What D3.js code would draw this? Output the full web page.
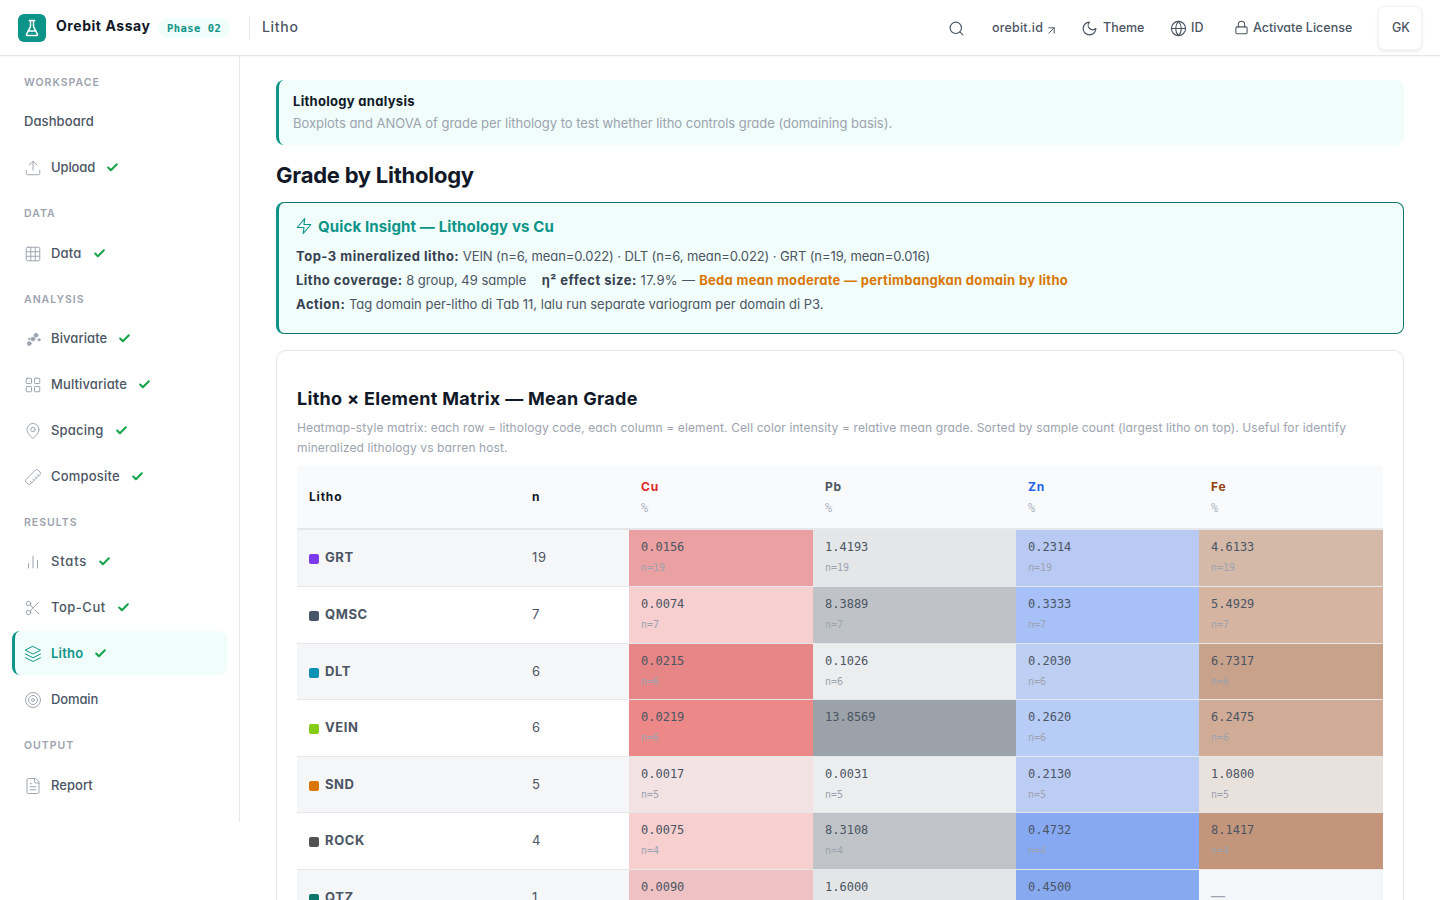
<!DOCTYPE html>
<html>
<head>
<meta charset="utf-8">
<title>Litho</title>
<script src="https://cdn.jsdelivr.net/npm/d3@7"></script>
<style>
  html, body { margin: 0; padding: 0; background: #fff; width: 1440px; height: 900px; overflow: hidden; }
  body { font-family: Inter, sans-serif; font-feature-settings: "cv11"; color: #4b5563; position: relative; }
  .t { position: absolute; white-space: nowrap; height: 20px; line-height: 20px; }
  .box { position: absolute; box-sizing: border-box; }
  .icon { position: absolute; fill: none; stroke-linecap: round; stroke-linejoin: round; stroke-width: 2; }
  svg.matrix { position: absolute; left: 0; top: 0; }
  .sec { font-size: 10.5px; font-weight: 600; letter-spacing: 1px; color: #9ca3af; }
  .nav { font-size: 13px; font-weight: 500; color: #4b5563; display: flex; align-items: center; }
  .nav svg { margin-left: 11px; }
  .top { font-size: 12.5px; font-weight: 500; color: #4b5563; }
  .ins { font-size: 13px; color: #4b5563; }
  .ins b { font-weight: 700; color: #374151; letter-spacing: .5px; }
  .ins b.warn { color: #d97706; letter-spacing: .3px; }
</style>
</head>
<body>
<script>
// matrix data
var lithoCodes = ["GRT", "QMSC", "DLT", "VEIN", "SND", "ROCK", "QTZ"];
var lithoCounts = [19, 7, 6, 6, 5, 4, 1];
var lithoColors = ["#7c3aed", "#475569", "#0891b2", "#84cc16", "#d97706", "#525252", "#0f766e"];
var elements = ["Cu", "Pb", "Zn", "Fe"];
var elementColors = ["#dc2626", "#4b5563", "#2563eb", "#92400e"];
var cuValues = [0.0156, 0.0074, 0.0215, 0.0219, 0.0017, 0.0075, 0.0090];
var pbValues = [1.4193, 8.3889, 0.1026, 13.8569, 0.0031, 8.3108, 1.6000];
var znValues = [0.2314, 0.3333, 0.2030, 0.2620, 0.2130, 0.4732, 0.4500];
var feValues = [4.6133, 5.4929, 6.7317, 6.2475, 1.0800, 8.1417, null];
var elementValues = [cuValues, pbValues, znValues, feValues];

// sidebar
var navSections = [
  { label: "WORKSPACE", y: 82 },
  { label: "DATA", y: 213 },
  { label: "ANALYSIS", y: 299 },
  { label: "RESULTS", y: 522 },
  { label: "OUTPUT", y: 745 }
];
var navItems = [
  { name: "Dashboard", y: 121, ls: .09 },
  { name: "Upload", y: 167, icon: "upload", ok: 1, ls: -.13 },
  { name: "Data", y: 253, icon: "table", ok: 1, ls: .2 },
  { name: "Bivariate", y: 338, icon: "scatter", ok: 1, ls: .09 },
  { name: "Multivariate", y: 384, icon: "grid", ok: 1, ls: .12 },
  { name: "Spacing", y: 430, icon: "pin", ok: 1, ls: .2 },
  { name: "Composite", y: 476, icon: "ruler", ok: 1, ls: .2 },
  { name: "Stats", y: 561, icon: "bars", ok: 1, ls: .8 },
  { name: "Top-Cut", y: 607, icon: "scissors", ok: 1, ls: .5 },
  { name: "Litho", y: 653, icon: "layers", ok: 1, active: 1, ls: .2 },
  { name: "Domain", y: 699, icon: "target", ls: -.13 },
  { name: "Report", y: 785, icon: "file", ls: .03 }
];

var icons = {
  flask: '<path d="M10 2v7.527a2 2 0 0 1-.211.896L4.72 20.55a1 1 0 0 0 .9 1.45h12.76a1 1 0 0 0 .9-1.45l-5.069-10.127A2 2 0 0 1 14 9.527V2"/><path d="M8.5 2h7"/><path d="M7 16h10"/>',
  search: '<circle cx="11" cy="11" r="8"/><path d="m21 21-4.3-4.3"/>',
  arrow: '<path d="M7 17 17 7"/><path d="M7 7h10v10"/>',
  moon: '<path d="M12 3a6 6 0 0 0 9 9 9 9 0 1 1-9-9Z"/>',
  globe: '<circle cx="12" cy="12" r="10"/><path d="M12 2a14.5 14.5 0 0 0 0 20 14.5 14.5 0 0 0 0-20"/><path d="M2 12h20"/>',
  lock: '<rect x="3" y="11" width="18" height="11" rx="2"/><path d="M7 11V7a5 5 0 0 1 10 0v4"/>',
  upload: '<path d="M21 15v4a2 2 0 0 1-2 2H5a2 2 0 0 1-2-2v-4"/><path d="m17 8-5-5-5 5"/><path d="M12 3v12"/>',
  table: '<rect x="3" y="3" width="18" height="18" rx="2"/><path d="M3 9h18M3 15h18M9 3v18M15 3v18"/>',
  scatter: '<circle cx="7" cy="18" r="2.5" fill="#9ca3af"/><circle cx="12" cy="12" r="2.5" fill="#9ca3af"/><circle cx="16" cy="7" r="2.5" fill="#9ca3af"/><circle cx="20" cy="13" r="1.5" fill="#9ca3af"/><circle cx="7" cy="12" r="1" fill="#9ca3af"/>',
  grid: '<rect x="3" y="3" width="7" height="7" rx="1"/><rect x="14" y="3" width="7" height="7" rx="1"/><rect x="14" y="14" width="7" height="7" rx="1"/><rect x="3" y="14" width="7" height="7" rx="1"/>',
  pin: '<path d="M20 10c0 6-8 12-8 12s-8-6-8-12a8 8 0 0 1 16 0Z"/><circle cx="12" cy="10" r="3"/>',
  ruler: '<path d="M21.3 15.3a2.4 2.4 0 0 1 0 3.4l-2.6 2.6a2.4 2.4 0 0 1-3.4 0L2.7 8.7a2.41 2.41 0 0 1 0-3.4l2.6-2.6a2.41 2.41 0 0 1 3.4 0Z" transform="rotate(90 12 12)"/><path d="m14.5 12.5 2-2M11.5 9.5l2-2M8.5 6.5l2-2M17.5 15.5l2-2" transform="rotate(90 12 12)"/>',
  bars: '<path d="M18 20V10"/><path d="M12 20V4"/><path d="M6 20v-6"/>',
  scissors: '<circle cx="6" cy="6" r="3"/><circle cx="6" cy="18" r="3"/><path d="M20 4 8.12 15.88"/><path d="M14.47 14.48 20 20"/><path d="M8.12 8.12 12 12"/>',
  layers: '<path d="m12 2 10 5-10 5L2 7z"/><path d="m2 12 10 5 10-5"/><path d="m2 17 10 5 10-5"/>',
  target: '<circle cx="12" cy="12" r="10"/><circle cx="12" cy="12" r="6"/><circle cx="12" cy="12" r="2"/>',
  file: '<path d="M15 2H6a2 2 0 0 0-2 2v16a2 2 0 0 0 2 2h12a2 2 0 0 0 2-2V7Z"/><path d="M14 2v4a2 2 0 0 0 2 2h4"/><path d="M16 13H8"/><path d="M16 17H8"/><path d="M10 9H8"/>',
  zap: '<path d="M13 2 3 14h9l-1 8 10-12h-9l1-8z"/>',
  check: '<path d="M20 6 9 17l-5-5"/>'
};

var body = d3.select("body");

function box(x, y, w, h, css) {
  var b = body.append("div").attr("class", "box")
    .style("left", x + "px").style("top", y + "px")
    .style("width", w + "px").style("height", h + "px");
  Object.keys(css).forEach(function(k) { b.style(k, css[k]); });
  return b;
}
// y is the vertical centre of the text line
function text(x, y, str, cls, css) {
  var t = body.append("div").attr("class", "t " + (cls || ""))
    .style("left", x + "px").style("top", (y - 10) + "px")
    .html(str);
  Object.keys(css || {}).forEach(function(k) { t.style(k, css[k]); });
  return t;
}
function icon(x, y, size, name, color, width) {
  return body.append("svg").attr("class", "icon")
    .attr("viewBox", "0 0 24 24")
    .attr("width", size).attr("height", size)
    .style("left", x + "px").style("top", y + "px")
    .style("stroke", color)
    .style("stroke-width", width || 2)
    .html(icons[name]);
}

// header
box(0, 0, 1440, 56, { background: "#fff", "border-bottom": "1px solid #e5e7eb", "box-shadow": "0 1px 2px rgba(0,0,0,.04)" });
box(18, 14, 28, 28, { background: "#0d9488", "border-radius": "6px" });
icon(23, 19, 18, "flask", "#fff", 2);
text(56, 26, "Orebit Assay", "", { "font-size": "14px", "font-weight": 700, color: "#111827", "letter-spacing": ".55px", "font-feature-settings": "normal" });
box(158, 18, 72, 20, { background: "#f0fdfa", "border-radius": "10px" });
text(167, 28, "Phase 02", "", { "font-family": "'DejaVu Sans Mono', monospace", "font-size": "10.5px", "font-weight": 700, color: "#0d9488", "letter-spacing": ".45px" });
box(249, 16, 1, 24, { background: "#e5e7eb" });
text(262, 27, "Litho", "", { "font-size": "14px", "font-weight": 500, color: "#4b5563", "letter-spacing": ".7px" });

icon(947.5, 19.5, 17, "search", "#4b5563", 1.6);
text(992, 28, "orebit.id", "top", { "letter-spacing": ".2px" });
icon(1044.5, 23.5, 13, "arrow", "#4b5563", 1.8);
icon(1080.5, 19.5, 17, "moon", "#4b5563", 1.6);
text(1103, 28, "Theme", "top");
icon(1169.5, 19.5, 17, "globe", "#4b5563", 1.6);
text(1191, 28, "ID", "top");
icon(1233.5, 20, 15, "lock", "#4b5563", 1.7);
text(1253, 28, "Activate License", "top");
box(1378, 6, 44, 44, { background: "#fff", "border-radius": "6px", border: "1px solid #f3f4f6", "box-shadow": "0 1px 3px rgba(0,0,0,.1)" });
text(1392, 28, "GK", "top");

// sidebar
box(239, 56, 1, 766, { background: "#e5e7eb" });
box(12, 631, 215, 44, { background: "#f0fdfa", "border-left": "3px solid #0d9488", "border-radius": "8px" });
navSections.forEach(function(s) { text(24, s.y + 1, s.label, "sec"); });
navItems.forEach(function(d) {
  var color = d.active ? "#0d9488" : "#4b5563";
  if (d.icon) icon(23.5, d.y - 8.5, 18, d.icon, d.active ? "#0d9488" : "#9ca3af", 1.3);
  var t = text(d.icon ? 51 : 24, d.y, "<span>" + d.name + "</span>", "nav", { color: color, "font-weight": d.active ? 600 : 500, "letter-spacing": d.ls + "px" });
  if (d.ok) {
    t.append("svg").attr("class", "ok").attr("viewBox", "0 0 24 24")
      .attr("width", 13).attr("height", 13)
      .style("fill", "none").style("stroke", "#16a34a").style("stroke-width", 3.8)
      .style("stroke-linecap", "round").style("stroke-linejoin", "round")
      .html(icons.check);
  }
});

// intro banner
box(276, 80, 1128, 65, { background: "#f0fdfa", "border-left": "3px solid #0d9488", "border-radius": "8px" });
text(293, 101, "Lithology analysis", "", { "font-size": "13px", "font-weight": 700, color: "#111827", "letter-spacing": ".3px" });
text(293, 123, "Boxplots and ANOVA of grade per lithology to test whether litho controls grade (domaining basis).", "", { "font-size": "13px", color: "#9ca3af", "letter-spacing": "-.03px" });

text(276, 175, "Grade by Lithology", "", { "font-size": "22px", "font-weight": 700, color: "#111827", "letter-spacing": "-.25px", "font-feature-settings": "normal" });

// insight box
box(276, 202, 1128, 132, { background: "#f0fdfa", border: "1px solid #0f766e", "border-left": "3px solid #0d9488", "border-radius": "8px" });
icon(295, 217, 18, "zap", "#0d9488", 1.5);
text(318, 227, "Quick Insight — Lithology vs Cu", "", { "font-size": "15px", "font-weight": 700, color: "#0d9488", "letter-spacing": ".13px", "font-feature-settings": "normal" });
text(296, 256, "<b>Top-3 mineralized litho:</b> <span style='letter-spacing:-.1px'>VEIN (n=6, mean=0.022) · DLT (n=6, mean=0.022) · GRT (n=19, mean=0.016)</span>", "ins");
text(296, 280, "<b>Litho coverage:</b> 8 group, 49 sample &nbsp;&nbsp;&nbsp; <b style='margin-left:-3px'>η² effect size:</b> <span style='letter-spacing:.4px'>17.9% —</span> <b class='warn'>Beda mean moderate — pertimbangkan domain by litho</b>", "ins");
text(296, 304, "<b>Action:</b> Tag domain per-litho di Tab 11, lalu run separate variogram per domain di P3.", "ins");

// matrix card
box(276, 350, 1128, 640, { background: "#fff", border: "1px solid #e5e7eb", "border-radius": "10px" });
text(297, 399, "Litho × Element Matrix — Mean Grade", "", { "font-size": "18px", "font-weight": 700, color: "#111827", "letter-spacing": ".3px", "font-feature-settings": "normal" });
box(297, 418, 1086, 40, { "font-size": "12px", "line-height": "20px", color: "#9ca3af", "letter-spacing": ".115px" })
  .text("Heatmap-style matrix: each row = lithology code, each column = element. Cell color intensity = relative mean grade. Sorted by sample count (largest litho on top). Useful for identify mineralized lithology vs barren host.");

// the matrix itself
var rowHeight = 56.62;
var matrixLeft = 297, matrixRight = 1383;
var columnStarts = [629, 813, 1016, 1199, matrixRight];

var y = d3.scaleBand()
  .domain(lithoCodes)
  .range([530.3, 530.3 + rowHeight * lithoCodes.length]);
var x = d3.scaleOrdinal().domain(elements).range(columnStarts);
var nextX = function(el) { return columnStarts[elements.indexOf(el) + 1]; };

// cell tint: each element has its own opacity scale up to its own maximum
var alphaScales = elements.map(function(el, j) {
  return d3.scaleLinear().domain([0, d3.max(elementValues[j])]).range([0.05, 0.55]);
});

var svg = body.append("svg").attr("class", "matrix").attr("width", 1440).attr("height", 900);

svg.append("rect").attr("x", matrixLeft).attr("y", 466).attr("width", matrixRight - matrixLeft).attr("height", 62).attr("fill", "#f9fafb");
svg.append("rect").attr("x", matrixLeft).attr("y", 528).attr("width", matrixRight - matrixLeft).attr("height", 2).attr("fill", "#e5e7eb");

var head = svg.append("g").attr("font-size", 12).attr("font-weight", 700).attr("letter-spacing", ".8px");
head.append("text").attr("x", 309).attr("y", 501).attr("fill", "#111827").text("Litho");
head.append("text").attr("x", 532).attr("y", 501).attr("fill", "#111827").text("n");
elements.forEach(function(el, j) {
  head.append("text").attr("x", x(el) + 12).attr("y", 491).attr("fill", elementColors[j]).text(el);
  head.append("text").attr("x", x(el) + 12).attr("y", 512)
    .attr("font-family", "'DejaVu Sans Mono', monospace").attr("font-size", 12).attr("font-weight", 400)
    .attr("letter-spacing", 0).attr("fill", "#b0b7c3").text("%");
});

var rows = svg.selectAll("g.row")
  .data(lithoCodes)
  .enter().append("g").attr("class", "row");

var rowTop = function(code) { return Math.round(y(code)); };
var cellH = function(code) { return Math.round(y(code) + y.step()) - rowTop(code) - 1; };

rows.append("rect")
  .attr("x", matrixLeft).attr("y", rowTop)
  .attr("width", matrixRight - matrixLeft).attr("height", cellH)
  .attr("fill", function(d, i) { return i % 2 ? "#fff" : "#f5f6f7"; });
rows.append("rect")
  .attr("x", matrixLeft).attr("y", function(d) { return rowTop(d) + cellH(d); })
  .attr("width", matrixRight - matrixLeft).attr("height", 1)
  .attr("fill", "#e5e7eb");
rows.append("rect")
  .attr("x", 309).attr("y", function(d) { return rowTop(d) + 24; })
  .attr("width", 10).attr("height", 10).attr("rx", 2)
  .attr("fill", function(d, i) { return lithoColors[i]; });
rows.append("text")
  .attr("x", 325).attr("y", function(d) { return rowTop(d) + 32; })
  .attr("font-size", 13).attr("font-weight", 700).attr("fill", "#4b5563").attr("letter-spacing", ".6px")
  .text(function(d) { return d; });
rows.append("text")
  .attr("x", 532).attr("y", function(d) { return rowTop(d) + 32; })
  .attr("font-size", 13).attr("fill", "#4b5563").attr("letter-spacing", ".8px")
  .text(function(d, i) { return lithoCounts[i]; });

elements.forEach(function(el, j) {
  var col = svg.append("g");
  var cells = lithoCodes.map(function(code, i) {
    return { code: code, v: elementValues[j][i], n: lithoCounts[i] };
  });
  col.selectAll("rect").data(cells.filter(function(c) { return c.v !== null; }))
    .enter().append("rect")
    .attr("x", x(el)).attr("y", function(c) { return rowTop(c.code); })
    .attr("width", nextX(el) - x(el)).attr("height", function(c) { return cellH(c.code); })
    .attr("fill", elementColors[j])
    .attr("fill-opacity", function(c) { return alphaScales[j](c.v); });
  col.selectAll("text.val").data(cells)
    .enter().append("text").attr("class", "val")
    .attr("x", x(el) + 12).attr("y", function(c) { return rowTop(c.code) + 21; })
    .attr("font-family", "'DejaVu Sans Mono', monospace").attr("font-size", 12).attr("fill", "#4b5563")
    .text(function(c) { return c.v === null ? "" : c.v.toFixed(4); });
  col.selectAll("text.cnt").data(cells.filter(function(c) { return c.v !== null; }))
    .enter().append("text").attr("class", "cnt")
    .attr("x", x(el) + 12).attr("y", function(c) { return rowTop(c.code) + 41; })
    .attr("font-family", "'DejaVu Sans Mono', monospace").attr("font-size", 10).attr("fill", "#9ca3af")
    .text(function(c) { return "n=" + c.n; });
  // no Fe assay for QTZ
  col.selectAll("text.dash").data(cells.filter(function(c) { return c.v === null; }))
    .enter().append("text").attr("class", "dash")
    .attr("x", x(el) + 12).attr("y", function(c) { return rowTop(c.code) + 31; })
    .attr("font-size", 14).attr("fill", "#9ca3af").text("—");
});
</script>
</body>
</html>
